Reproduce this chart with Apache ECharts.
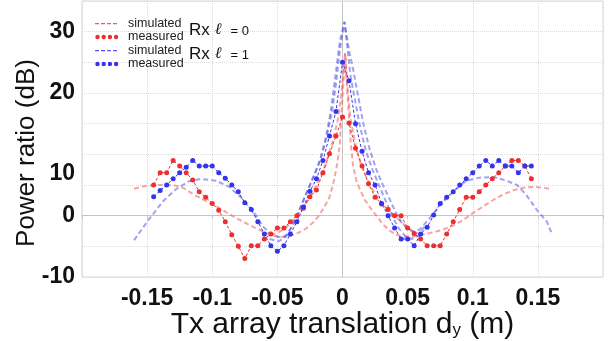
<!DOCTYPE html>
<html>
<head>
<meta charset="utf-8">
<title>Power ratio vs Tx array translation</title>
<script src="https://cdn.jsdelivr.net/npm/echarts@6/dist/echarts.min.js"></script>
<style>
  html, body { margin: 0; padding: 0; background: #fff; }
  #chart1 { width: 611px; height: 341px; }
</style>
</head>
<body>
<div id="chart1"></div>
<script type="text/javascript">
// tick labels
var xTicks = [-0.15, -0.1, -0.05, 0, 0.05, 0.1, 0.15];
var yTicks = [-10, 0, 10, 20, 30];

// measured points (m, dB)
var measX = [-0.145, -0.14, -0.135, -0.13, -0.125, -0.12, -0.115, -0.11, -0.105, -0.1,
  -0.095, -0.09, -0.085, -0.08, -0.075, -0.07, -0.065, -0.06, -0.055, -0.05,
  -0.045, -0.04, -0.035, -0.03, -0.025, -0.02, -0.015, -0.01, -0.005, 0,
  0.005, 0.01, 0.015, 0.02, 0.025, 0.03, 0.035, 0.04, 0.045, 0.05,
  0.055, 0.06, 0.065, 0.07, 0.075, 0.08, 0.085, 0.09, 0.095, 0.1,
  0.105, 0.11, 0.115, 0.12, 0.125, 0.13, 0.135, 0.14, 0.145];
var measRx0 = [5.0, 7.0, 7.0, 9.0, 8.1, 7.0, 5.8, 3.9, 3.0, 2.0,
  0.9, -1.0, -3.1, -5.0, -7.0, -4.9, -4.9, -3.8, -3.0, -2.0,
  -2.0, -1.0, 0.0, 1.2, 3.1, 4.2, 7.0, 10.1, 13.0, 16.1,
  15.1, 11.0, 8.1, 5.2, 3.0, 1.9, 1.0, 0.0, 0.0, -2.0,
  -2.9, -3.8, -4.9, -4.9, -4.9, -3.0, -1.0, 1.0, 3.0, 3.0,
  3.9, 5.0, 6.0, 7.0, 8.1, 9.0, 9.0, 8.1, 6.0];
var measRx1 = [3.1, 4.1, 5.0, 6.0, 7.0, 7.9, 9.0, 8.1, 8.1, 8.1,
  7.0, 6.1, 5.0, 3.9, 2.1, 1.0, -1.0, -3.0, -4.9, -5.8,
  -4.9, -3.0, -1.0, 1.4, 4.0, 6.0, 9.0, 13.0, 17.0, 25.0,
  22.0, 15.0, 10.5, 7.0, 5.0, 2.0, 0.0, -2.0, -3.8, -3.8,
  -4.9, -3.0, -1.9, 0.1, 2.0, 3.0, 3.9, 5.0, 6.0, 7.0,
  8.1, 9.0, 8.1, 9.0, 8.1, 8.1, 7.0, 8.1, 8.1];

// simulated curves [m, dB]
var simRx0 = [[-0.160, 4.4], [-0.150, 4.9], [-0.140, 5.0], [-0.130, 5.0], [-0.122, 4.5], [-0.114, 3.4],
  [-0.104, 2.3], [-0.094, 1.2], [-0.085, 0.0], [-0.077, -0.9], [-0.068, -1.9], [-0.060, -2.7],
  [-0.052, -3.3], [-0.045, -3.5], [-0.040, -3.3], [-0.034, -2.8], [-0.028, -2.1], [-0.023, -1.2],
  [-0.018, 0.0], [-0.014, 1.4], [-0.010, 3.0], [-0.007, 5.3], [-0.004, 8.5], [-0.002, 11.8],
  [-0.001, 16.0], [0.0005, 21.0], [0.002, 26.5], [0.0035, 21.0], [0.005, 16.0], [0.0065, 11.5],
  [0.008, 8.3], [0.0105, 5.8], [0.013, 4.5], [0.017, 2.6], [0.021, 1.4], [0.026, 0.0],
  [0.031, -1.4], [0.036, -2.4], [0.041, -3.1], [0.047, -3.4], [0.053, -3.4], [0.060, -3.2],
  [0.068, -2.8], [0.077, -2.3], [0.085, -1.6], [0.092, -0.8], [0.100, 0.4], [0.108, 1.5],
  [0.116, 2.6], [0.124, 3.5], [0.132, 4.2], [0.140, 4.6], [0.148, 4.7], [0.155, 4.5], [0.161, 4.3]];
var simRx0b = [[-0.055, -3.2], [-0.049, -2.7], [-0.043, -1.9], [-0.037, -0.6], [-0.031, 1.1],
  [-0.025, 3.0], [-0.019, 5.4], [-0.013, 8.4], [-0.008, 11.8], [-0.004, 15.2], [-0.001, 19.5],
  [0.002, 26.5], [0.004, 20.5], [0.006, 16.0], [0.010, 11.5], [0.014, 8.5], [0.018, 6.4],
  [0.023, 4.3], [0.028, 2.6], [0.034, 1.1], [0.041, -0.2], [0.048, -1.6], [0.055, -2.7], [0.062, -3.2]];
var simRx1 = [[-0.160, -4.0], [-0.155, -2.5], [-0.149, -0.7], [-0.138, 2.3], [-0.128, 4.3],
  [-0.118, 5.6], [-0.109, 6.0], [-0.097, 5.7], [-0.087, 4.7], [-0.077, 2.8], [-0.069, 0.9],
  [-0.061, -1.8], [-0.054, -3.1], [-0.049, -3.5], [-0.043, -3.2], [-0.038, -1.5], [-0.034, 0.5],
  [-0.029, 3.0], [-0.024, 5.5], [-0.018, 8.5], [-0.013, 12.5], [-0.009, 17.0], [-0.005, 23.5],
  [-0.002, 28.5], [0.0015, 31.6], [0.005, 27.0], [0.008, 24.0], [0.012, 19.5], [0.016, 15.0],
  [0.021, 10.7], [0.026, 7.5], [0.031, 5.0], [0.036, 2.8], [0.040, 0.9], [0.045, -1.0],
  [0.049, -2.0], [0.054, -2.6], [0.059, -2.3], [0.067, -0.4], [0.075, 1.75], [0.085, 3.9],
  [0.095, 5.7], [0.105, 6.2], [0.116, 6.3], [0.126, 5.7], [0.134, 5.0], [0.141, 3.4],
  [0.149, 1.0], [0.157, -1.0], [0.161, -3.1]];
var simRx1b = [[-0.056, -3.8], [-0.049, -4.2], [-0.043, -3.3], [-0.037, -1.0], [-0.032, 1.5],
  [-0.027, 4.0], [-0.021, 7.0], [-0.016, 9.8], [-0.012, 13.0], [-0.008, 17.0], [-0.005, 21.5],
  [-0.002, 27.0], [0.0015, 31.6], [0.004, 27.0], [0.006, 23.0], [0.009, 19.5], [0.013, 15.0],
  [0.018, 10.5], [0.023, 7.5], [0.028, 5.0], [0.033, 2.5], [0.038, 0.0], [0.043, -2.0],
  [0.048, -3.3], [0.053, -3.8], [0.058, -3.3], [0.064, -1.5]];

var red = '#ee2f2f', blue = '#3434ee';
var redSim = 'rgba(240,90,90,0.55)', blueSim = 'rgba(85,85,230,0.55)';
// legend icons: four dots, and a short dashed line
var dotsIcon = 'path://M0.3,2.5A2.2,2.2 0 1,1 4.7,2.5A2.2,2.2 0 1,1 0.3,2.5z M6.5,2.5A2.2,2.2 0 1,1 10.9,2.5A2.2,2.2 0 1,1 6.5,2.5z M12.7,2.5A2.2,2.2 0 1,1 17.1,2.5A2.2,2.2 0 1,1 12.7,2.5z M18.9,2.5A2.2,2.2 0 1,1 23.3,2.5A2.2,2.2 0 1,1 18.9,2.5z M0,0h0.05v0.05h-0.05z M23.95,4.95h0.05v0.05h-0.05z';
var dashIcon = 'path://M0,2h4v1.2h-4z M6,2h4v1.2h-4z M12,2h4v1.2h-4z M18,2h4v1.2h-4z M0,0h0.05v0.05h-0.05z M23.95,4.95h0.05v0.05h-0.05z';

function pairs(xs, ys) {
  return xs.map(function (x, i) { return [x, ys[i]]; });
}
function simLine(name, data, color, iconColor) {
  return {
    name: name, type: 'line', data: data, symbol: 'none', z: 2,
    itemStyle: { color: iconColor },
    lineStyle: { color: color, width: 2, type: [5, 3] }
  };
}
function measLine(name, data, color) {
  return {
    name: name, type: 'line', data: data, symbol: 'circle', symbolSize: 5, z: 3,
    itemStyle: { color: color },
    lineStyle: { color: color, width: 1, type: [3, 2] }
  };
}

var labelFont = 'Liberation Sans';
var rxRich = {
  rx: { fontSize: 17, fontFamily: labelFont, fontWeight: 'normal', color: '#111' },
  l: { fontSize: 16, fontFamily: 'DejaVu Serif', fontStyle: 'italic', fontWeight: 'normal', color: '#111', padding: [0, 9, 0, 0] },
  eq: { fontSize: 13, fontFamily: labelFont, fontWeight: 'normal', color: '#111', padding: [3, 0, 0, 0] }
};
var myChart1 = echarts.init(document.getElementById('chart1'));
myChart1.setOption({
  backgroundColor: '#fff',
  animation: false,
  grid: { left: 82, right: 8, top: 1, bottom: 64, show: true, borderColor: '#d6d6d6', borderWidth: 1,
    outerBoundsMode: 'none', containLabel: false },
  title: [
    { text: '{rx|Rx} {l|ℓ}{eq|= 0}', left: 189, top: 21, padding: 0, textStyle: { fontWeight: 'normal', rich: rxRich } },
    { text: '{rx|Rx} {l|ℓ}{eq|= 1}', left: 189, top: 45, padding: 0, textStyle: { fontWeight: 'normal', rich: rxRich } }
  ],
  legend: {
    data: [{ name: 'sim0', icon: dashIcon }, { name: 'meas0', icon: dotsIcon },
           { name: 'sim1', icon: dashIcon }, { name: 'meas1', icon: dotsIcon }],
    orient: 'vertical', left: 95, top: 17, padding: 0,
    itemWidth: 24, itemHeight: 5, itemGap: 0.5,
    formatter: function (n) { return n.indexOf('sim') === 0 ? 'simulated' : 'measured'; },
    textStyle: { fontSize: 12.5, lineHeight: 12, color: '#222', fontFamily: labelFont, padding: [0, 0, 0, 4] }
  },
  xAxis: {
    type: 'value', min: -0.2, max: 0.2, interval: 0.05,
    name: 'Tx array translation d{sub|y} (m)', nameLocation: 'middle', nameGap: 33, nameMoveOverlap: false,
    nameTextStyle: { fontSize: 30, fontFamily: labelFont, color: '#111',
      rich: { sub: { fontSize: 17, fontFamily: labelFont, color: '#111', padding: [10, 0, 0, 0] } } },
    axisLine: { lineStyle: { color: '#c4c4c4' } },
    axisTick: { show: true, length: 3, lineStyle: { color: '#c4c4c4' } },
    splitLine: { show: true, lineStyle: { color: '#dcdcdc', type: 'dotted' } },
    axisLabel: {
      margin: 10, fontSize: 23, fontWeight: 'bold', fontFamily: labelFont, color: '#111',
      formatter: function (v) {
        var r = Math.round(v * 100) / 100;
        return xTicks.indexOf(r) >= 0 ? String(r) : '';
      }
    }
  },
  yAxis: {
    type: 'value', min: -10, max: 35, interval: 5,
    name: 'Power ratio (dB)', nameLocation: 'middle', nameGap: 42, nameRotate: 90, nameMoveOverlap: false,
    nameTextStyle: { fontSize: 26, fontFamily: labelFont, color: '#111', padding: [0, 28, 0, 0] },
    axisLine: { show: true, lineStyle: { color: '#c4c4c4' } },
    axisTick: { show: false },
    splitLine: { show: true, lineStyle: { color: '#dcdcdc', type: 'dotted' } },
    axisLabel: {
      margin: 7, fontSize: 23, fontWeight: 'bold', fontFamily: labelFont, color: '#111',
      formatter: function (v) {
        if (v === 10) return '{lo|10}';
        return yTicks.indexOf(v) >= 0 ? String(v) : '';
      },
      rich: { lo: { fontSize: 23, fontWeight: 'bold', fontFamily: labelFont, color: '#111', padding: [38, 0, 0, 0] } }
    }
  },
  series: [
    simLine('sim0', simRx0, redSim, '#f25a5a'),
    simLine('sim0b', simRx0b, redSim, '#f25a5a'),
    simLine('sim1', simRx1, blueSim, '#5a5af0'),
    simLine('sim1b', simRx1b, blueSim, '#5a5af0'),
    measLine('meas0', pairs(measX, measRx0), red),
    measLine('meas1', pairs(measX, measRx1), blue)
  ]
});
</script>
</body>
</html>
